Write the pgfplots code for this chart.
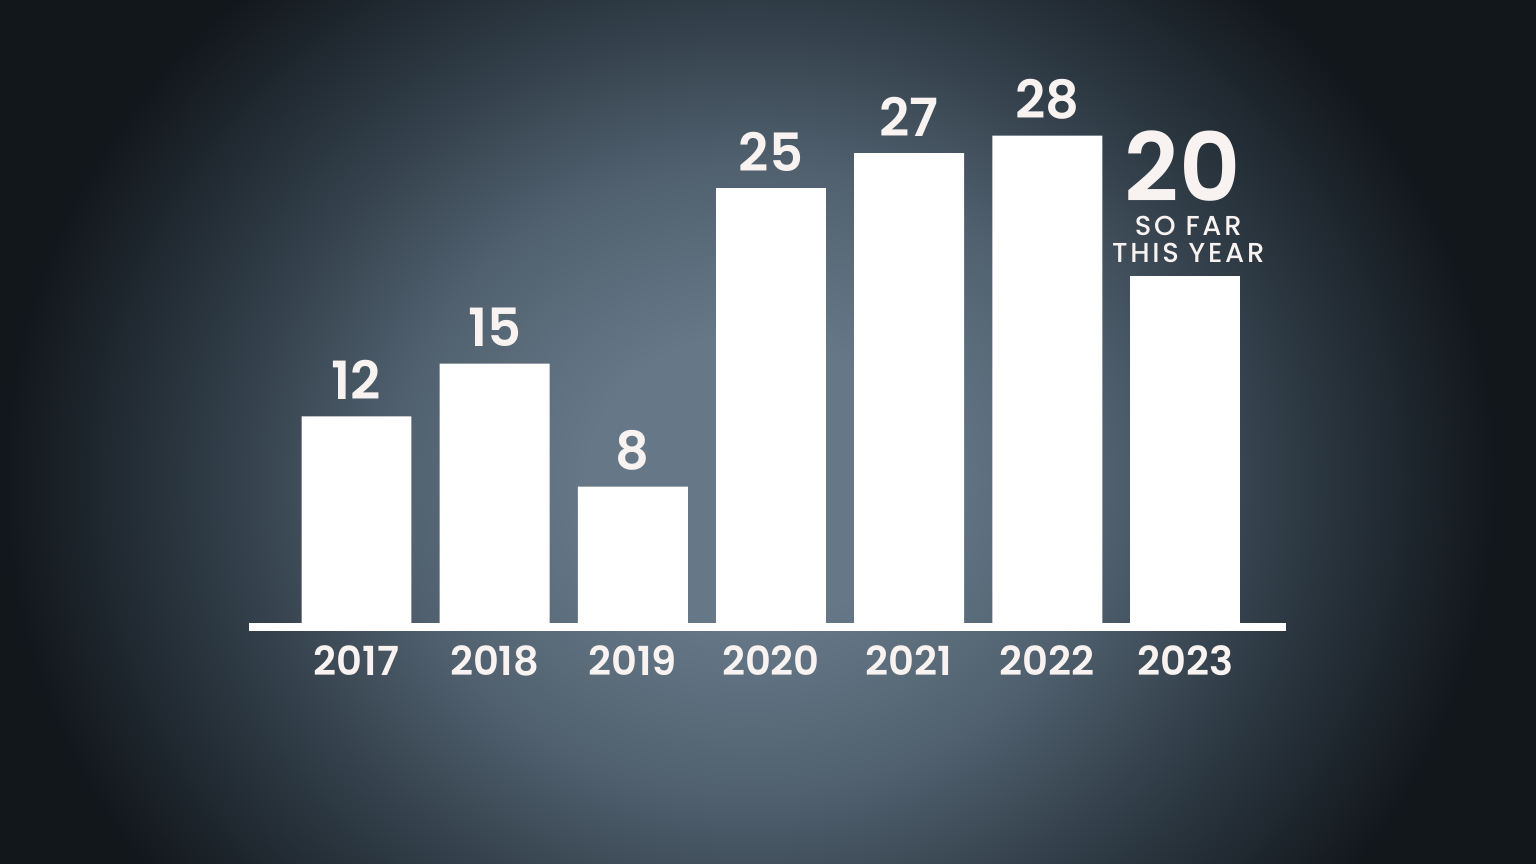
\documentclass[border=0pt]{standalone}
\usepackage{pgfplots}
\pgfplotsset{compat=1.18}
\usepackage{fontspec}
\setmainfont{Poppins}[BoldFont={Poppins SemiBold}]
\newfontfamily\medfont{Poppins Medium}[LetterSpace=10]
\definecolor{bgA}{RGB}{102,120,136}
\definecolor{bgB}{RGB}{80,96,110}
\definecolor{bgC}{RGB}{45,57,67}
\definecolor{bgD}{RGB}{18,23,28}
\definecolor{txt}{RGB}{248,242,240}
\pgfdeclareradialshading{bgshade}{\pgfpoint{0bp}{0bp}}{%
  color(0bp)=(bgA); color(5bp)=(bgA); color(11bp)=(bgB); color(17bp)=(bgC); color(23bp)=(bgD); color(50bp)=(bgD)}
\pgfplotstableread{
x y
0 12
1 15
2 8
3 25
4 27
5 28
}\bars
\pgfplotstableread{
x y
6 20
}\barlast
\begin{document}
\begin{tikzpicture}[x=1cm,y=1cm]
\useasboundingbox (0,0) rectangle (15.36,8.64);
\begin{scope}
\clip (0,0) rectangle (15.36,8.64);
\fill[bgD] (0,0) rectangle (15.36,8.64);
\shade[shading=bgshade] (7.5-8.1,3.84-7.2) rectangle (7.5+8.1,3.84+7.2);
\end{scope}
\begin{axis}[
  at={(3.565cm,2.37cm)}, anchor=origin,
  scale only axis, width=10.37cm, height=5.265cm,
  xmin=-0.778, xmax=6.728, ymin=0, ymax=30,
  axis x line*=bottom, axis y line=none,
  x axis line style={draw=white, line width=0.08cm, -},
  ybar, bar width=0.796, bar shift=0pt,
  xtick={0,1,2,3,4,5,6},
  xticklabels={2017,2018,2019,2020,2021,2022,2023},
  major tick length=0pt,
  xticklabel style={anchor=base, yshift=-0.49cm, font=\fontsize{11.4}{12}\selectfont\bfseries, text=txt, inner sep=0pt},
  clip=false,
  /pgf/number format/assume math mode=true,
  nodes near coords,
  every node near coord/.append style={anchor=base, yshift=0.17cm, inner sep=0pt, font=\fontsize{15}{16}\selectfont\bfseries, text=txt},
]
\addplot[fill=white, draw=none] table[x=x,y=y] {\bars};
\addplot[fill=white, draw=none, nodes near coords={}] table[x=x,y=y] {\barlast};
\node[anchor=south, inner sep=0pt, text=txt, align=center, font=\fontsize{7.8}{7.7}\selectfont\medfont, yshift=0.13cm] at (axis cs:6.02,20) {SO FAR\\THIS YEAR};
\node[anchor=base, inner sep=0pt, text=txt, font=\fontsize{27}{28}\selectfont\bfseries, yshift=0.74cm] at (axis cs:5.98,20) {20};
\end{axis}
\end{tikzpicture}
\end{document}
